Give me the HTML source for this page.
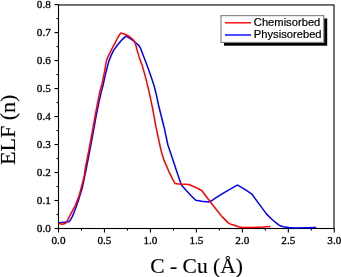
<!DOCTYPE html>
<html><head><meta charset="utf-8"><style>
html,body{margin:0;padding:0;background:#fff;}
body{width:341px;height:277px;overflow:hidden;}
svg{display:block;will-change:transform;}
.serif{font-family:"Liberation Serif",serif;}
.sans{font-family:"Liberation Sans",sans-serif;}
</style></head><body>
<svg width="341" height="277" viewBox="0 0 341 277">
<rect x="0" y="0" width="341" height="277" fill="#fff"/>
<g stroke="#000" stroke-width="1.1" fill="none">
<rect x="58.5" y="4.95" width="275.5" height="223.55"/>
<line x1="54.50" y1="228.50" x2="58.5" y2="228.50"/><line x1="56.50" y1="214.50" x2="58.5" y2="214.50"/><line x1="54.50" y1="200.51" x2="58.5" y2="200.51"/><line x1="56.50" y1="186.51" x2="58.5" y2="186.51"/><line x1="54.50" y1="172.52" x2="58.5" y2="172.52"/><line x1="56.50" y1="158.53" x2="58.5" y2="158.53"/><line x1="54.50" y1="144.53" x2="58.5" y2="144.53"/><line x1="56.50" y1="130.53" x2="58.5" y2="130.53"/><line x1="54.50" y1="116.54" x2="58.5" y2="116.54"/><line x1="56.50" y1="102.55" x2="58.5" y2="102.55"/><line x1="54.50" y1="88.55" x2="58.5" y2="88.55"/><line x1="56.50" y1="74.56" x2="58.5" y2="74.56"/><line x1="54.50" y1="60.56" x2="58.5" y2="60.56"/><line x1="56.50" y1="46.56" x2="58.5" y2="46.56"/><line x1="54.50" y1="32.57" x2="58.5" y2="32.57"/><line x1="56.50" y1="18.58" x2="58.5" y2="18.58"/><line x1="54.50" y1="4.58" x2="58.5" y2="4.58"/><line x1="58.50" y1="228.5" x2="58.50" y2="232.50"/><line x1="81.48" y1="228.5" x2="81.48" y2="230.50"/><line x1="104.47" y1="228.5" x2="104.47" y2="232.50"/><line x1="127.45" y1="228.5" x2="127.45" y2="230.50"/><line x1="150.43" y1="228.5" x2="150.43" y2="232.50"/><line x1="173.41" y1="228.5" x2="173.41" y2="230.50"/><line x1="196.40" y1="228.5" x2="196.40" y2="232.50"/><line x1="219.38" y1="228.5" x2="219.38" y2="230.50"/><line x1="242.36" y1="228.5" x2="242.36" y2="232.50"/><line x1="265.34" y1="228.5" x2="265.34" y2="230.50"/><line x1="288.33" y1="228.5" x2="288.33" y2="232.50"/><line x1="311.31" y1="228.5" x2="311.31" y2="230.50"/><line x1="334.29" y1="228.5" x2="334.29" y2="232.50"/>
</g>
<g fill="none" stroke-linejoin="round" stroke-linecap="butt">
<polyline points="59.0,222.8 61.4,222.6 65.0,222.2 68.4,221.8 69.9,220.9 72.4,216.4 74.1,212.2 76.3,206.4 78.9,198.9 82.4,187.3 86.0,170.0 89.9,150.0 93.1,132.8 96.3,115.0 98.8,102.8 101.4,91.4 103.1,85.0 105.8,72.8 108.8,61.4 111.3,55.1 113.6,50.4 117.7,44.7 122.6,39.1 126.0,36.1 129.1,37.9 132.6,40.1 135.2,42.3 139.0,45.6 140.6,48.3 142.8,54.2 145.5,61.2 148.0,68.0 151.0,76.4 154.2,86.1 156.6,95.8 158.5,105.0 164.2,127.7 167.9,145.0 171.8,156.4 176.6,171.0 181.0,184.0 181.8,185.4 186.3,190.6 190.7,195.3 195.7,200.3 201.7,201.3 208.7,202.0 211.4,200.8 215.0,198.4 221.7,194.2 228.9,189.9 236.8,185.4 237.6,185.1 243.7,188.7 251.6,193.8 259.0,203.9 266.6,214.1 272.6,220.0 279.0,225.2 283.2,226.7 289.0,227.6 295.0,227.9 316.2,227.5" stroke="#0000ff" stroke-width="1.5"/>
<polyline points="59.0,223.5 62.3,224.2 65.2,223.5 66.3,222.6 67.6,220.2 70.4,214.6 75.0,206.1 79.0,196.0 81.4,187.3 84.3,175.8 85.0,170.0 88.9,150.0 92.1,132.8 95.3,115.0 97.6,102.8 99.9,91.4 102.0,84.0 104.3,72.8 106.6,60.1 108.8,55.1 111.5,49.7 115.0,43.2 118.1,37.0 120.8,32.9 123.4,33.7 126.5,35.0 130.0,37.0 133.5,40.1 134.8,42.3 136.1,46.2 137.0,50.0 139.0,56.4 141.2,62.9 142.1,65.0 145.3,76.4 148.5,89.3 151.0,100.7 152.9,110.0 156.1,127.7 160.5,148.0 161.7,153.1 164.1,160.4 169.0,171.8 173.0,179.9 175.1,183.6 178.7,183.9 186.0,184.2 188.7,184.5 194.1,186.7 201.7,190.5 204.9,194.8 211.0,202.7 216.1,209.3 222.0,216.6 228.3,222.9 230.6,224.1 233.5,225.0 238.5,226.8 242.0,227.6 252.6,227.6 263.2,227.1 270.2,226.4" stroke="#ff0000" stroke-width="1.5"/>
</g>
<g class="serif" font-size="11.2" fill="#000" stroke="#000" stroke-width="0.3">
<text x="50.8" y="232.20" text-anchor="end">0.0</text><text x="50.8" y="204.21" text-anchor="end">0.1</text><text x="50.8" y="176.22" text-anchor="end">0.2</text><text x="50.8" y="148.23" text-anchor="end">0.3</text><text x="50.8" y="120.24" text-anchor="end">0.4</text><text x="50.8" y="92.25" text-anchor="end">0.5</text><text x="50.8" y="64.26" text-anchor="end">0.6</text><text x="50.8" y="36.27" text-anchor="end">0.7</text><text x="50.8" y="8.28" text-anchor="end">0.8</text><text x="58.50" y="243.8" text-anchor="middle">0.0</text><text x="104.47" y="243.8" text-anchor="middle">0.5</text><text x="150.43" y="243.8" text-anchor="middle">1.0</text><text x="196.40" y="243.8" text-anchor="middle">1.5</text><text x="242.36" y="243.8" text-anchor="middle">2.0</text><text x="288.33" y="243.8" text-anchor="middle">2.5</text><text x="334.29" y="243.8" text-anchor="middle">3.0</text>
</g>
<text class="serif" x="196.6" y="272.7" font-size="21.5" text-anchor="middle" fill="#000" stroke="#000" stroke-width="0.15">C - Cu (Å)</text>
<text class="serif" transform="translate(15.4,129.8) rotate(-90)" font-size="22" text-anchor="middle" fill="#000" stroke="#000" stroke-width="0.15">ELF (n)</text>
<g>
<rect x="224" y="18.5" width="103.2" height="27.2" fill="#000"/>
<rect x="221" y="15.6" width="102.8" height="26.8" fill="#fff" stroke="#888" stroke-width="1.2"/>
<line x1="225" y1="22.8" x2="251" y2="22.8" stroke="#ff0000" stroke-width="1.4"/>
<line x1="225" y1="35" x2="251" y2="35" stroke="#0000ff" stroke-width="1.4"/>
<text class="sans" font-size="11.2" x="253.8" y="26.2" fill="#000" stroke="#000" stroke-width="0.2">Chemisorbed</text>
<text class="sans" font-size="11.2" x="253.8" y="38.0" fill="#000" stroke="#000" stroke-width="0.2">Physisorebed</text>
</g>
</svg>
</body></html>
